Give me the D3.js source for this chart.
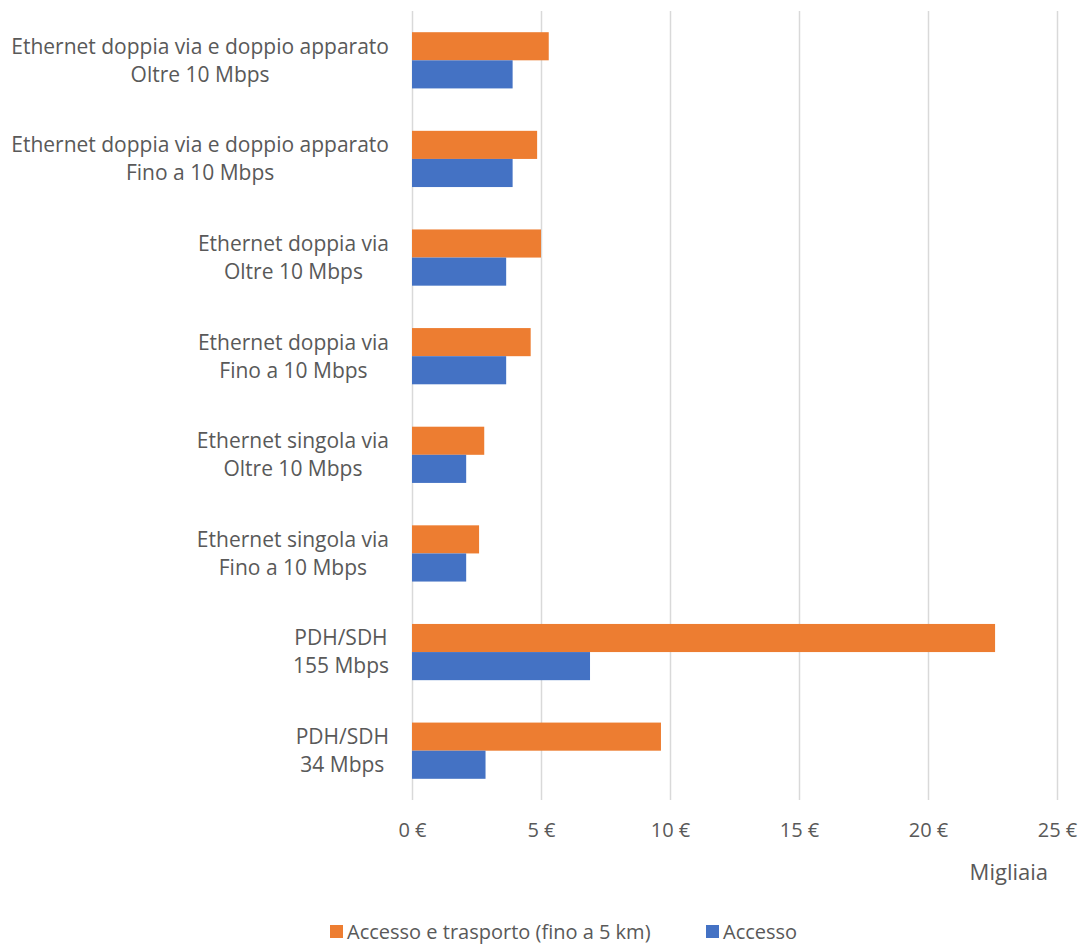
<!DOCTYPE html>
<html><head><meta charset="utf-8">
<script src="https://cdn.jsdelivr.net/npm/d3@7"></script>
<style>body{margin:0;background:#fff;} text{font-family:"Open Sans",sans-serif;fill:#595959;}</style>
</head><body>
<svg id="c" width="1081" height="950"></svg>
<script>
const categories = [
  ["Ethernet doppia via e doppio apparato","Oltre 10 Mbps"],
  ["Ethernet doppia via e doppio apparato","Fino a 10 Mbps"],
  ["Ethernet doppia via","Oltre 10 Mbps"],
  ["Ethernet doppia via","Fino a 10 Mbps"],
  ["Ethernet singola via","Oltre 10 Mbps"],
  ["Ethernet singola via","Fino a 10 Mbps"],
  ["PDH/SDH","155 Mbps"],
  ["PDH/SDH","34 Mbps"]
];
const seriesNames = ["Accesso e trasporto (fino a 5 km)", "Accesso"];
const accessoTrasporto = [5.3, 4.85, 5.0, 4.6, 2.8, 2.6, 22.6, 9.65];
const accesso = [3.9, 3.9, 3.65, 3.65, 2.1, 2.1, 6.9, 2.85];
const tickValues = [0, 5, 10, 15, 20, 25];
const colors = ["#ED7D31", "#4472C4"];

const svg = d3.select("#c");
const pL = 412, pR = 1057, pT = 11, pB = 800;
const x = d3.scaleLinear().domain([0, 25]).range([pL, pR]);
const idx = d3.range(categories.length);
const y = d3.scaleBand().domain(idx).range([pT, pB]).paddingInner(0.43).paddingOuter(0.215);
const ys = d3.scaleBand().domain([0,1]).range([0, y.bandwidth()]);

// gridlines
svg.append("g").selectAll("line").data(tickValues).join("line")
  .attr("x1", d => Math.round(x(d)) + 0.5).attr("x2", d => Math.round(x(d)) + 0.5)
  .attr("y1", pT).attr("y2", pB)
  .attr("stroke", "#d9d9d9").attr("stroke-width", 1.5);

// tick labels via axis
const ax = svg.append("g").attr("transform", `translate(0,${pB})`)
  .call(d3.axisBottom(x).tickValues(tickValues).tickFormat(d => d + " €").tickSize(0).tickPadding(23));
ax.select(".domain").remove();
ax.selectAll("text").attr("font-size", 20).style("font-family", '"Open Sans",sans-serif').attr("fill", "#595959");

const series = [accessoTrasporto, accesso];
series.forEach((vals, s) => {
  svg.append("g").selectAll("rect").data(vals).join("rect")
    .attr("x", x(0)).attr("y", (d, i) => y(i) + ys(s))
    .attr("width", d => x(d) - x(0)).attr("height", ys.bandwidth())
    .attr("fill", colors[s]);
});

// category labels (lines centered with each other, block right-aligned)
const cl = svg.append("g");
const labelRight = 389;
categories.forEach((c, i) => {
  const cy = y(i) + y.bandwidth() / 2;
  const t = cl.append("text").attr("text-anchor", "middle").attr("font-size", 21);
  const s1 = t.append("tspan").attr("y", cy - 14).attr("dy", "0.35em").text(c[0]);
  const s2 = t.append("tspan").attr("y", cy + 14).attr("dy", "0.35em").text(c[1]);
  const w = Math.max(s1.node().getComputedTextLength(), s2.node().getComputedTextLength());
  const cx = labelRight - w / 2;
  s1.attr("x", cx); s2.attr("x", cx);
});

svg.append("text").attr("x", 1048).attr("y", 872).attr("dy", "0.35em").attr("text-anchor", "end")
  .attr("font-size", 22).text("Migliaia");

// legend
const lg = svg.append("g");
const legendX = [330, 706];
seriesNames.forEach((n, s) => {
  lg.append("rect").attr("x", legendX[s]).attr("y", 925).attr("width", 13).attr("height", 13).attr("fill", colors[s]);
  lg.append("text").attr("x", legendX[s] + 17).attr("y", 932).attr("dy", "0.35em").attr("font-size", 20).text(n);
});
</script>
</body></html>
